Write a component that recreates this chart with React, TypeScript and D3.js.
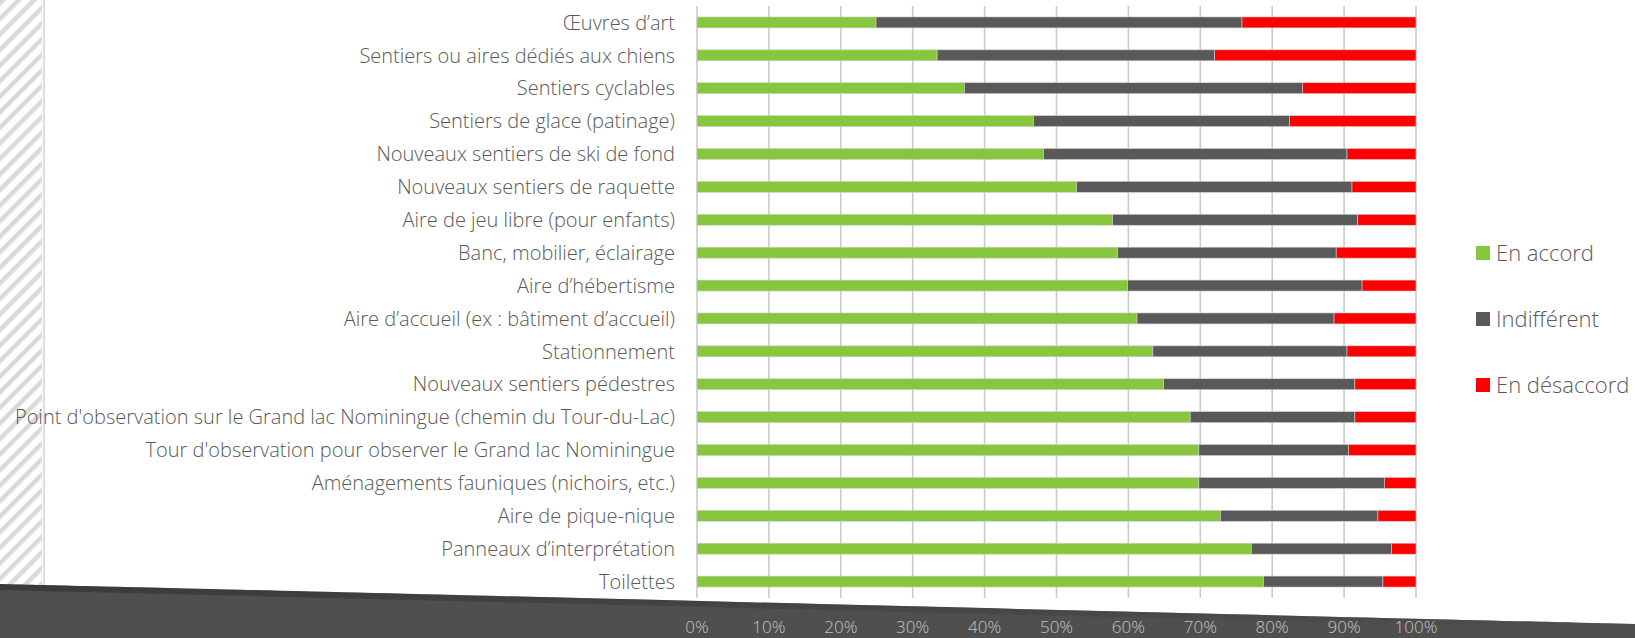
import React from "react"
import * as d3 from "d3"

const width = 1635
const height = 638

const categories = [
  "Œuvres d’art",
  "Sentiers ou aires dédiés aux chiens",
  "Sentiers cyclables",
  "Sentiers de glace (patinage)",
  "Nouveaux sentiers de ski de fond",
  "Nouveaux sentiers de raquette",
  "Aire de jeu libre (pour enfants)",
  "Banc, mobilier, éclairage",
  "Aire d’hébertisme",
  "Aire d’accueil (ex : bâtiment d’accueil)",
  "Stationnement",
  "Nouveaux sentiers pédestres",
  "Point d'observation sur le Grand lac Nominingue (chemin du Tour-du-Lac)",
  "Tour d'observation pour observer le Grand lac Nominingue",
  "Aménagements fauniques (nichoirs, etc.)",
  "Aire de pique-nique",
  "Panneaux d’interprétation",
  "Toilettes",
]

// percentages
const enAccord = [24.9, 33.4, 37.2, 46.8, 48.2, 52.8, 57.8, 58.5, 59.9, 61.2, 63.4, 64.9, 68.6, 69.8, 69.8, 72.8, 77.1, 78.8]
const indifferent = [50.9, 38.6, 47.0, 35.6, 42.2, 38.3, 34.1, 30.4, 32.6, 27.4, 27.0, 26.6, 22.9, 20.8, 25.8, 21.9, 19.5, 16.6]
const enDesaccord = [24.2, 28.0, 15.8, 17.6, 9.6, 8.9, 8.1, 11.1, 7.5, 11.4, 9.6, 8.5, 8.5, 9.4, 4.4, 5.3, 3.4, 4.6]

const seriesNames = ["En accord", "Indifférent", "En désaccord"]
const seriesColors = ["#86c73e", "#595959", "#ff0000"]
const tickValues = [0, 10, 20, 30, 40, 50, 60, 70, 80, 90, 100]

const font = "'Open Sans', 'Noto Sans', sans-serif"

export default function App() {
  const rows = categories.map((c, i) => ({
    cat: c,
    [seriesNames[0]]: enAccord[i],
    [seriesNames[1]]: indifferent[i],
    [seriesNames[2]]: enDesaccord[i],
  }))
  const stacked = d3.stack<any>().keys(seriesNames)(rows)

  const x = d3.scaleLinear().domain([0, 100]).range([697, 1416])
  const y = d3
    .scaleBand()
    .domain(categories)
    .range([6, 598])
    .paddingInner(0.667)
    .paddingOuter(0.333)
  const color = d3.scaleOrdinal<string, string>().domain(seriesNames).range(seriesColors)

  // page edge: slightly tilted bottom
  const edge = d3.line<[number, number]>().curve(d3.curveBasis)
  const edgePts: [number, number][] = [
    [0, 584],
    [45, 585],
    [700, 601],
    [1300, 616],
    [1635, 624],
  ]
  const darkPath = edge(edgePts) + ` L${width},${height} L0,${height} Z`

  return (
    <div style={{ position: "absolute", left: 0, top: 0 }}>
      <svg width={width} height={height} style={{ display: "block", background: "#fff" }}>
        <defs>
          <pattern id="hatch" width="11" height="11" patternUnits="userSpaceOnUse" patternTransform="rotate(45)">
            <rect width="11" height="11" fill="#fff" />
            <rect width="4.5" height="11" fill="#d9d9d9" />
          </pattern>
          <linearGradient id="strip" x1="0" x2="1" y1="0" y2="0">
            <stop offset="0" stopColor="#fff" stopOpacity="0" />
            <stop offset="1" stopColor="#cfcfcf" stopOpacity="1" />
          </linearGradient>
          <linearGradient id="shade" x1="0" x2="0" y1="0" y2="1">
            <stop offset="0" stopColor="#2c2c2c" />
            <stop offset="1" stopColor="#4f4f4f" />
          </linearGradient>
        </defs>

        {/* hatched left strip */}
        <rect x={0} y={0} width={42} height={height} fill="url(#hatch)" />
        <rect x={40} y={0} width={5} height={height} fill="url(#strip)" />

        {/* grid */}
        {tickValues.map(t => (
          <line key={t} x1={x(t)} x2={x(t)} y1={6} y2={598} stroke="#cbcbcb" strokeWidth={1.6} />
        ))}

        {/* bars */}
        {stacked.map(s => (
          <g key={s.key} fill={color(s.key)}>
            {s.map(d => (
              <rect
                key={d.data.cat}
                x={x(d[0])}
                y={y(d.data.cat)}
                width={x(d[1]) - x(d[0])}
                height={y.bandwidth()}
                stroke="#cfcfcf"
                strokeWidth={0.6}
              />
            ))}
          </g>
        ))}

        {/* category labels */}
        {categories.map(c => (
          <text
            key={c}
            x={675}
            y={y(c) + y.bandwidth() / 2}
            dy="0.36em"
            textAnchor="end"
            fontFamily={font}
            fontWeight={300}
            fontSize={20}
            fill="#595959"
          >
            {c}
          </text>
        ))}

        {/* legend */}
        {seriesNames.map((n, i) => (
          <g key={n} transform={`translate(1476, ${253 + i * 66})`}>
            <rect x={0} y={-7} width={14} height={14} fill={color(n)} />
            <text x={20} y={0} dy="0.36em" fontFamily={font} fontWeight={300} fontSize={22} fill="#595959">
              {n}
            </text>
          </g>
        ))}

        {/* dark desk below the tilted page */}
        <path d={darkPath} fill="#4f4f4f" />
        <path
          d={edge(edgePts)}
          fill="none"
          stroke="url(#shade)"
          strokeWidth={6}
          strokeOpacity={0.6}
          transform="translate(0,3)"
        />

        {/* x tick labels */}
        {tickValues.map(t => (
          <text
            key={t}
            x={x(t)}
            y={633}
            textAnchor="middle"
            fontFamily={font}
            fontWeight={300}
            fontSize={17}
            fill="#c4c4c4"
          >
            {t}%
          </text>
        ))}
      </svg>
    </div>
  )
}
